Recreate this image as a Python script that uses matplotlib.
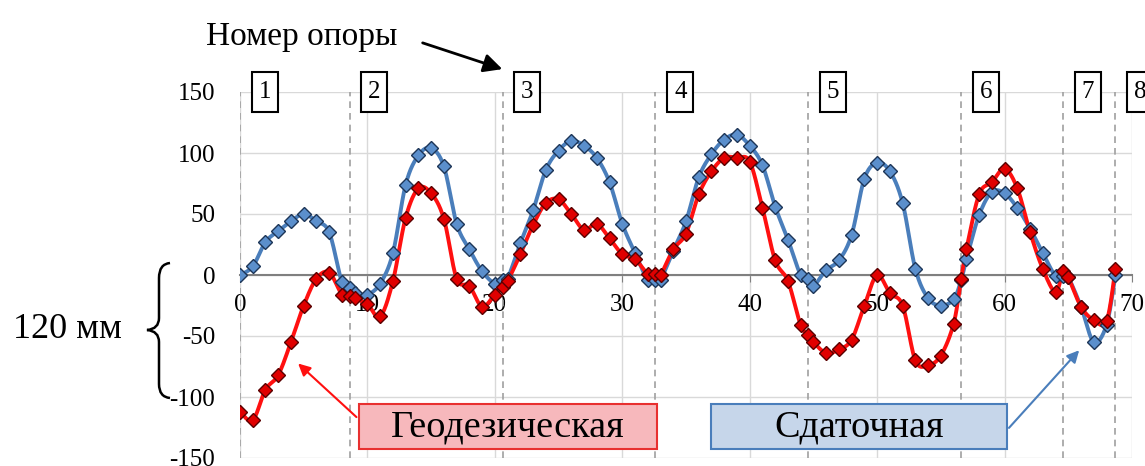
import matplotlib
matplotlib.use('Agg')
import matplotlib.pyplot as plt
import numpy as np
from matplotlib.patches import Rectangle, PathPatch
from matplotlib.path import Path

plt.rcParams['font.family'] = ['Liberation Serif', 'DejaVu Serif']
plt.rcParams['axes.unicode_minus'] = False

# положение точек по оси X (с точками на опорах)
X = [0, 1, 2, 3, 4, 5, 6, 7, 8, 8.6,
     9, 10, 11, 12, 13, 14, 15, 16, 17, 18, 19, 20, 20.6,
     21, 22, 23, 24, 25, 26, 27, 28, 29, 30, 31, 32, 32.6,
     33, 34, 35, 36, 37, 38, 39, 40, 41, 42, 43, 44, 44.6,
     45, 46, 47, 48, 49, 50, 51, 52, 53, 54, 55, 56, 56.6,
     57, 58, 59, 60, 61, 62, 63, 64, 64.6,
     65, 66, 67, 68, 68.7]

SDATOCHNAYA = [0, 7, 27, 36, 44, 50, 44, 35, -6, -11,
               -15, -16, -7, 18, 74, 98, 104, 89, 42, 21, 3, -7, -4,
               -3, 26, 53, 86, 102, 110, 106, 96, 76, 42, 18, -4, -4,
               -4, 20, 44, 80, 99, 111, 115, 106, 90, 56, 29, 0, -3,
               -9, 4, 12, 33, 79, 92, 85, 59, 5, -19, -25, -20, -4,
               13, 49, 68, 67, 55, 38, 18, -1, -1,
               -2, -26, -55, -41, 0]

GEODEZ = [-112, -119, -94, -82, -55, -25, -3, 2, -16, -17,
          -19, -24, -34, -5, 47, 71, 67, 46, -3, -9, -26, -16, -10,
          -5, 17, 41, 59, 62, 50, 37, 42, 30, 17, 13, 1, 1,
          0, 21, 34, 66, 85, 96, 96, 93, 55, 12, -5, -41, -49,
          -55, -64, -61, -53, -25, 0, -15, -25, -70, -74, -66, -40, -3,
          21, 66, 76, 87, 71, 35, 5, -14, 3,
          -2, -26, -37, -38, 5]

OPORY_X = [0, 8.6, 20.6, 32.6, 44.6, 56.6, 64.6, 68.7]
OPORY_N = ['1', '2', '3', '4', '5', '6', '7', '8']

SINIY = '#4a7ebb'
KRASNYI = '#ff1010'

_SX, _SY = 12.74, 1.22   # пикс. на единицу, для сглаживания


def _gladkaya(x, y, n=16):
    # сглаженная линия как в Excel (Catmull-Rom -> Безье)
    p = np.column_stack([np.asarray(x, float) * _SX, np.asarray(y, float) * _SY])
    pts = [p[0]]
    for i in range(len(p) - 1):
        p0 = p[i - 1] if i > 0 else p[i]
        p1, p2 = p[i], p[i + 1]
        p3 = p[i + 2] if i + 2 < len(p) else p[i + 1]
        c1 = p1 + (p2 - p0) / 6
        c2 = p2 - (p3 - p1) / 6
        t = np.linspace(0, 1, n)[1:, None]
        seg = ((1 - t) ** 3) * p1 + 3 * ((1 - t) ** 2) * t * c1 \
            + 3 * (1 - t) * t ** 2 * c2 + t ** 3 * p2
        pts.extend(seg)
    pts = np.array(pts)
    return pts[:, 0] / _SX, pts[:, 1] / _SY


fig = plt.figure(figsize=(11.45, 4.66), dpi=100)
ax = fig.add_axes([240 / 1145, 1 - 458 / 466, 892 / 1145, 366 / 466])

ax.set_xlim(0, 70)
ax.set_ylim(-150, 150)
ax.set_xticks(range(0, 71, 10))
ax.set_yticks(range(-150, 151, 50))
ax.grid(True, color='#d9d9d9', linewidth=1.0)
ax.set_axisbelow(True)

for s in ['left', 'right', 'top']:
    ax.spines[s].set_visible(False)
ax.spines['bottom'].set_position(('data', 0))
ax.spines['bottom'].set_color('#808080')
ax.spines['bottom'].set_linewidth(1.5)
ax.tick_params(axis='y', length=0, pad=18, labelsize=18)
ax.tick_params(axis='x', length=5, color='#808080', pad=9, labelsize=18)

for xo, num in zip(OPORY_X, OPORY_N):
    ax.axvline(xo, color='#a0a0a0', linestyle=(0, (4, 3)), linewidth=1.2, zorder=1)
    ax.add_patch(Rectangle((xo + 1.95 - 1.02, 150 - 16.4), 2.04, 32.8,
                           fc='white', ec='black', lw=1.5, clip_on=False, zorder=5))
    ax.text(xo + 1.95, 150, num, ha='center', va='center', fontsize=18,
            clip_on=False, zorder=6)

gx, gy = _gladkaya(X, SDATOCHNAYA)
ax.plot(gx, gy, color=SINIY, linewidth=2.8, zorder=3)
ax.plot(X, SDATOCHNAYA, linestyle='none', marker='D', markersize=7.5,
        markerfacecolor='#5b8fcc', markeredgecolor='#1d3557', markeredgewidth=1.0, zorder=4)

gx, gy = _gladkaya(X, GEODEZ)
ax.plot(gx, gy, color=KRASNYI, linewidth=2.8, zorder=3)
ax.plot(X, GEODEZ, linestyle='none', marker='D', markersize=7.5,
        markerfacecolor='#e00000', markeredgecolor='#5a0000', markeredgewidth=1.0, zorder=4)

# подписи серий
ax.add_patch(Rectangle((9.3, -142.5), 23.45, 36.5, fc='#f7b8bc', ec='#e83030', lw=1.5, zorder=6))
ax.text(21.0, -124.5, 'Геодезическая', ha='center', va='center', fontsize=27.5, zorder=7)
ax.annotate('', xy=(4.4, -71), xytext=(9.3, -118),
            arrowprops=dict(arrowstyle='-|>', color=KRASNYI, lw=1.5, mutation_scale=18), zorder=6)

ax.add_patch(Rectangle((37.0, -142.5), 23.2, 36.5, fc='#c6d6ea', ec=SINIY, lw=1.5, zorder=6))
ax.text(48.6, -124.5, 'Сдаточная', ha='center', va='center', fontsize=27.5, zorder=7)
ax.annotate('', xy=(66.0, -60), xytext=(60.2, -127),
            arrowprops=dict(arrowstyle='-|>', color=SINIY, lw=1.5, mutation_scale=18), zorder=6)

# подписи вне графика, в пикселях рисунка
ov = fig.add_axes([0, 0, 1, 1])
ov.set_xlim(0, 1145)
ov.set_ylim(466, 0)
ov.axis('off')

ov.text(302, 37, 'Номер опоры', ha='center', va='center', fontsize=24)
ov.annotate('', xy=(505, 70), xytext=(420, 42),
            arrowprops=dict(arrowstyle='-|>', color='black', lw=2, mutation_scale=28))

ov.text(67, 330, '120 мм', ha='center', va='center', fontsize=26)
skobka = Path(
    [(170, 263), (159, 264), (159, 278),
     (159, 318),
     (159, 329), (147, 330),
     (159, 331), (159, 342),
     (159, 384),
     (159, 397), (170, 398)],
    [Path.MOVETO, Path.CURVE3, Path.CURVE3,
     Path.LINETO,
     Path.CURVE3, Path.CURVE3,
     Path.CURVE3, Path.CURVE3,
     Path.LINETO,
     Path.CURVE3, Path.CURVE3])
ov.add_patch(PathPatch(skobka, fc='none', ec='black', lw=1.8))

fig.savefig('out.png', dpi=100)
